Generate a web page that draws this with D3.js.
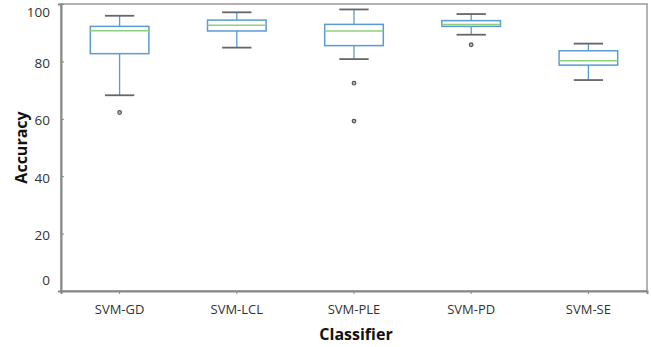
<!DOCTYPE html>
<html>
<head>
<meta charset="utf-8">
<script src="https://cdn.jsdelivr.net/npm/d3@7"></script>
<style>
  body { margin: 0; background: #fff; }
  text { font-family: "Open Sans", "Noto Sans", sans-serif; }
</style>
</head>
<body>
<script>
// data
const classifiers = ['SVM-GD', 'SVM-LCL', 'SVM-PLE', 'SVM-PD', 'SVM-SE'];
const whiskerLow  = [68.2, 84.8, 80.8, 89.3, 73.5];
const q1          = [82.7, 90.6, 85.5, 92.2, 78.7];
const median      = [90.7, 92.6, 90.6, 92.9, 80.2];
const q3          = [92.2, 94.4, 92.9, 94.2, 83.7];
const whiskerHigh = [95.9, 97.1, 98.1, 96.5, 86.2];
const outliers    = [[62.2], [], [72.4, 59.2], [85.8], []];
const yTicks = [0, 20, 40, 60, 80, 100];

const svgWid = 651, svgHt = 347;
const margin = {top: 4, right: 4, bottom: 56, left: 61};
const innerW = svgWid - margin.left - margin.right;
const innerH = svgHt - margin.top - margin.bottom;

const svg = d3.select('body').append('svg').attr('width', svgWid).attr('height', svgHt);
const g = svg.append('g').attr('transform', `translate(${margin.left},${margin.top})`);

const xScale = d3.scaleBand().domain(classifiers).range([0, innerW]).padding(0);
const yScale = d3.scaleLinear().domain([0, 100]).range([innerH, 0]);

// frame
g.append('rect').attr('x', 0).attr('y', 0).attr('width', innerW).attr('height', innerH)
  .attr('fill', 'none').attr('stroke', '#999').attr('stroke-width', 1.5);

// y axis
const yAxisG = g.append('g').call(d3.axisLeft(yScale).tickValues(yTicks).tickSize(3).tickPadding(8));
yAxisG.select('.domain').attr('stroke', '#888').attr('stroke-width', 2);
yAxisG.selectAll('.tick line').attr('stroke', '#888').attr('transform', 'translate(3,0)');
yAxisG.selectAll('.tick text').attr('font-size', '13.5px').attr('fill', '#333')
  .attr('dy', d => d === 100 ? '0.95em' : d === 0 ? '-0.45em' : '0.45em');

// x axis
const xAxisG = g.append('g').attr('transform', `translate(0,${innerH})`)
  .call(d3.axisBottom(xScale).tickSize(3).tickPadding(11));
xAxisG.select('.domain').attr('stroke', '#888').attr('stroke-width', 2);
xAxisG.selectAll('.tick line').attr('stroke', '#888');
xAxisG.selectAll('.tick text').attr('font-size', '13px').attr('fill', '#333');

// axis titles
svg.append('text').text('Classifier').attr('x', margin.left + innerW / 2 + 2).attr('y', 340)
  .attr('text-anchor', 'middle').attr('font-size', '16px').attr('font-weight', 'bold').attr('fill', '#111');
svg.append('text').text('Accuracy').attr('transform', `translate(27,${margin.top + innerH / 2}) rotate(-90)`)
  .attr('text-anchor', 'middle').attr('font-size', '16px').attr('font-weight', 'bold').attr('fill', '#111');

// boxes
const bw = xScale.bandwidth();
const boxW = bw * 0.5, capW = bw * 0.25;
const boxColor = '#5b9bd5', capColor = '#666', medColor = '#8fcf7f';

classifiers.forEach((c, i) => {
  const cx = xScale(c) + bw / 2;
  const bg = g.append('g');
  bg.append('line').attr('x1', cx).attr('x2', cx)
    .attr('y1', yScale(whiskerHigh[i])).attr('y2', yScale(q3[i]))
    .attr('stroke', boxColor).attr('stroke-width', 1.3);
  bg.append('line').attr('x1', cx).attr('x2', cx)
    .attr('y1', yScale(q1[i])).attr('y2', yScale(whiskerLow[i]))
    .attr('stroke', boxColor).attr('stroke-width', 1.3);
  [whiskerHigh[i], whiskerLow[i]].forEach(v => {
    bg.append('line').attr('x1', cx - capW / 2).attr('x2', cx + capW / 2)
      .attr('y1', yScale(v)).attr('y2', yScale(v))
      .attr('stroke', capColor).attr('stroke-width', 1.8);
  });
  bg.append('rect').attr('x', cx - boxW / 2).attr('width', boxW)
    .attr('y', yScale(q3[i])).attr('height', yScale(q1[i]) - yScale(q3[i]))
    .attr('fill', '#fff').attr('stroke', boxColor).attr('stroke-width', 1.5);
  bg.append('line').attr('x1', cx - boxW / 2).attr('x2', cx + boxW / 2)
    .attr('y1', yScale(median[i])).attr('y2', yScale(median[i]))
    .attr('stroke', medColor).attr('stroke-width', 1.5);
  bg.selectAll('circle').data(outliers[i]).enter().append('circle')
    .attr('cx', cx).attr('cy', d => yScale(d)).attr('r', 1.8)
    .attr('fill', '#bbb').attr('stroke', '#555').attr('stroke-width', 1.2);
});
</script>
</body>
</html>
